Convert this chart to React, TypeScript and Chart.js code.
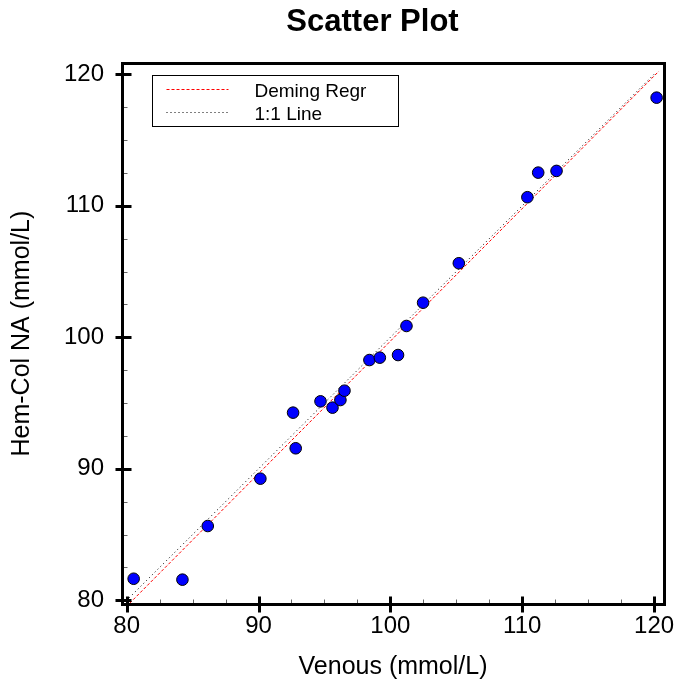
import { useEffect, useRef } from 'react';
import { Chart, registerables } from 'chart.js';

Chart.register(...registerables);

const FONT = "'Liberation Sans', Arial, sans-serif";

// measured points (Venous vs Hem-Col NA)
const venous = [80.53, 84.23, 86.15, 90.14, 92.62, 92.82, 94.70, 95.61, 96.21, 96.52, 98.41, 99.20, 100.58, 101.22, 102.48, 105.19, 110.39, 111.21, 112.60, 120.19];
const hemCol = [81.64, 81.57, 85.65, 89.25, 94.27, 91.56, 95.13, 94.65, 95.23, 95.94, 98.27, 98.45, 98.65, 100.86, 102.63, 105.63, 110.65, 112.52, 112.65, 118.22];

// line end points
const demingX = [80.23, 120.36];
const demingY = [79.78, 120.23];
const identityX = [80.2, 120.0];
const identityY = [80.2, 120.0];

const majorTicks = [80, 90, 100, 110, 120];
const minorTicks = [82.5, 85, 87.5, 92.5, 95, 97.5, 102.5, 105, 107.5, 112.5, 115, 117.5];

const xRange = [79.65, 120.75];
const yRange = [79.72, 120.84];

const framePlugin = {
    id: 'frame',
    afterLayout(chart: any) {
        // title is centred a bit right of the canvas middle
        const t = chart.titleBlock;
        if (t) {
            t.left = 68;
            t.right = chart.width;
        }
    },
    afterDatasetsDraw(chart: any) {
        const { ctx, chartArea, scales } = chart;
        const left = Math.round(chartArea.left) + 0.5;
        const right = Math.round(chartArea.right) + 0.5;
        const top = Math.round(chartArea.top) + 0.5;
        const bottom = Math.round(chartArea.bottom) + 0.5;
        const x = scales.x;
        const y = scales.y;
        ctx.save();

        // minor ticks
        ctx.strokeStyle = '#666';
        ctx.lineWidth = 1;
        ctx.beginPath();
        minorTicks.forEach((v) => {
            const px = Math.round(x.getPixelForValue(v)) + 0.5;
            ctx.moveTo(px, bottom - 1);
            ctx.lineTo(px, bottom - 5);
            const py = Math.round(y.getPixelForValue(v)) + 0.5;
            ctx.moveTo(left + 1, py);
            ctx.lineTo(left + 5, py);
        });
        ctx.stroke();

        // frame
        ctx.strokeStyle = '#000';
        ctx.lineWidth = 3;
        ctx.strokeRect(left, top, right - left, bottom - top);

        // major ticks
        ctx.beginPath();
        majorTicks.forEach((v) => {
            const px = Math.round(x.getPixelForValue(v)) + 0.5;
            ctx.moveTo(px, bottom - 8);
            ctx.lineTo(px, bottom + 8);
            const py = Math.round(y.getPixelForValue(v)) + 0.5;
            ctx.moveTo(left - 7, py);
            ctx.lineTo(left + 9, py);
        });
        ctx.stroke();
        ctx.restore();
    },
    afterDraw(chart: any) {
        const { ctx, chartArea } = chart;
        const bx = Math.round(chartArea.left) + 30.5;
        const by = Math.round(chartArea.top) + 12.5;
        const bw = 246;
        const bh = 51;
        ctx.save();
        ctx.fillStyle = '#fff';
        ctx.fillRect(bx, by, bw, bh);
        ctx.strokeStyle = '#000';
        ctx.lineWidth = 1;
        ctx.strokeRect(bx, by, bw, bh);

        const items = [chart.data.datasets[1], chart.data.datasets[2]];
        ctx.font = `19px ${FONT}`;
        ctx.textBaseline = 'alphabetic';
        ctx.textAlign = 'left';
        items.forEach((ds: any, i: number) => {
            const ly = by + 14 + i * 23;
            ctx.beginPath();
            ctx.strokeStyle = ds.borderColor;
            ctx.lineWidth = 1;
            ctx.setLineDash(ds.borderDash);
            ctx.moveTo(bx + 14, ly);
            ctx.lineTo(bx + 76, ly);
            ctx.stroke();
            ctx.setLineDash([]);
            ctx.fillStyle = '#000';
            ctx.fillText(ds.label, bx + 102, ly + 7);
        });
        ctx.restore();
    }
};

const ScatterPlot = () => {
    const chartRef = useRef<HTMLCanvasElement | null>(null);
    const chartInstanceRef = useRef<Chart | null>(null);

    useEffect(() => {
        if (!chartRef.current) return;

        const points = venous.map((v, i) => ({ x: v, y: hemCol[i] }));
        const deming = demingX.map((v, i) => ({ x: v, y: demingY[i] }));
        const identity = identityX.map((v, i) => ({ x: v, y: identityY[i] }));

        chartInstanceRef.current = new Chart(chartRef.current, {
            type: 'scatter',
            data: {
                datasets: [
                    {
                        label: 'Data',
                        data: points,
                        pointRadius: 5.8,
                        pointBackgroundColor: '#0000ff',
                        pointBorderColor: '#000',
                        pointBorderWidth: 1,
                    },
                    {
                        label: 'Deming Regr',
                        data: deming,
                        showLine: true,
                        borderColor: '#ff0000',
                        borderWidth: 1,
                        borderDash: [3, 2],
                        pointRadius: 0,
                    },
                    {
                        label: '1:1 Line',
                        data: identity,
                        showLine: true,
                        borderColor: '#000',
                        borderWidth: 1,
                        borderDash: [1, 3],
                        pointRadius: 0,
                    },
                ] as any
            },
            options: {
                animation: false,
                responsive: false,
                events: [],
                layout: { padding: { left: 0, right: 13, top: 0, bottom: 0 } },
                plugins: {
                    legend: { display: false },
                    tooltip: { enabled: false },
                    title: {
                        display: true,
                        text: 'Scatter Plot',
                        color: '#000',
                        font: { family: FONT, size: 31, weight: 'bold' },
                        padding: { top: 4, bottom: 22 }
                    }
                },
                scales: {
                    x: {
                        type: 'linear',
                        min: xRange[0],
                        max: xRange[1],
                        grid: { display: false, drawTicks: false },
                        border: { display: false },
                        ticks: {
                            stepSize: 10,
                            includeBounds: false,
                            padding: 8,
                            maxRotation: 0,
                            color: '#000',
                            font: { family: FONT, size: 24 }
                        },
                        title: {
                            display: true,
                            text: 'Venous (mmol/L)',
                            color: '#000',
                            font: { family: FONT, size: 25 },
                            padding: { top: 3.2, bottom: 1 }
                        },
                        afterFit: (s: any) => {
                            s.paddingLeft = 0;
                            s.paddingRight = 0;
                        }
                    },
                    y: {
                        type: 'linear',
                        min: yRange[0],
                        max: yRange[1],
                        grid: { display: false, drawTicks: false },
                        border: { display: false },
                        ticks: {
                            stepSize: 10,
                            includeBounds: false,
                            padding: 18,
                            color: '#000',
                            font: { family: FONT, size: 24 }
                        },
                        title: {
                            display: true,
                            text: 'Hem-Col NA (mmol/L)',
                            color: '#000',
                            font: { family: FONT, size: 25 },
                            padding: { top: 7.5, bottom: 8.5 }
                        }
                    }
                }
            } as any,
            plugins: [framePlugin]
        });

        return () => {
            if (chartInstanceRef.current) {
                chartInstanceRef.current.destroy();
                chartInstanceRef.current = null;
            }
        };
    }, []);

    return <div style={{ position: 'fixed', left: 0, top: 0, width: 677, height: 683, background: '#fff', overflow: 'hidden' }}>
        <canvas ref={chartRef} width={677} height={683}></canvas>
    </div>;
};

export default function App() {
    return <ScatterPlot />;
}
